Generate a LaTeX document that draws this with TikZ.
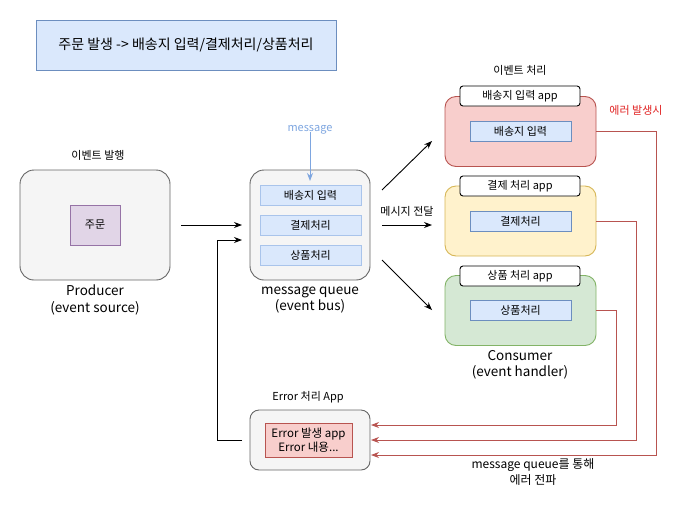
\documentclass[tikz,border=0pt]{standalone}
\usepackage{fontspec}
\setmainfont{Noto Sans CJK KR}
\usetikzlibrary{arrows.meta}
\definecolor{bfill}{HTML}{DAE8FC}
\definecolor{bline}{HTML}{6C8EBF}
\definecolor{blight}{HTML}{A9C4EB}
\definecolor{gfill}{HTML}{F5F5F5}
\definecolor{gline}{HTML}{666666}
\definecolor{pfill}{HTML}{E1D5E7}
\definecolor{pline}{HTML}{9673A6}
\definecolor{rfill}{HTML}{F8CECC}
\definecolor{rline}{HTML}{B85450}
\definecolor{yfill}{HTML}{FFF2CC}
\definecolor{yline}{HTML}{D6B656}
\definecolor{grfill}{HTML}{D5E8D4}
\definecolor{grline}{HTML}{82B366}
\definecolor{msgblue}{HTML}{7EA6E0}
\definecolor{errred}{HTML}{E02020}
\tikzset{
  base/.style={inner sep=0pt, outer sep=0pt, line width=0.9pt, font=\fontsize{11}{13}\selectfont, align=center},
  bigbox/.style={base, draw=gline, fill=gfill, rounded corners=14pt},
  item/.style={base, draw=blight, fill=bfill, minimum width=101pt, minimum height=20pt},
  appbox/.style={base, rounded corners=11pt, minimum width=151pt, minimum height=70pt},
  tagbox/.style={base, draw=black, fill=white, rounded corners=3pt, minimum width=120pt, minimum height=20pt},
  lbl/.style={base},
  biglbl/.style={base, font=\fontsize{12}{16}\selectfont},
  caplbl/.style={base, font=\fontsize{13.5}{16.5}\selectfont},
  arr/.style={line width=0.9pt, -{Stealth[length=8pt,width=6pt]}},
  rarr/.style={line width=0.9pt, draw=rline, -{Stealth[length=8pt,width=6pt]}},
}
\begin{document}
\begin{tikzpicture}[x=1pt,y=-1pt]
\useasboundingbox (0,0) rectangle (687,509);

% title
\node[base, draw=bline, fill=bfill, minimum width=300pt, minimum height=50pt, font=\fontsize{14}{16}\selectfont] (title) at (186,45) {주문 발생 -> 배송지 입력/결제처리/상품처리};

% producer
\node[lbl] (prodlbl) at (98,155) {이벤트 발행};
\node[bigbox, minimum width=150pt, minimum height=110pt] (prod) at (95,225) {};
\node[base, draw=pline, fill=pfill, minimum width=50pt, minimum height=40pt] (order) at (95,225) {주문};
\node[caplbl] (prodcap) at (95,300) {Producer\\(event source)};

% message queue
\node[bigbox, minimum width=120pt, minimum height=110pt] (mq) at (310,225) {};
\node[item] (mq1) at (310.5,195) {배송지 입력};
\node[item] (mq2) at (310.5,225) {결제처리};
\node[item] (mq3) at (310.5,255) {상품처리};
\node[caplbl] (mqcap) at (310,300) {message queue\\(event bus)};
\node[lbl, text=msgblue] (msg) at (310,130) {message};
\coordinate (msgend) at (310,181);
\draw[arr, draw=msgblue] (msg.south) ++(0,-2) -- (msgend);

% producer -> mq
\coordinate (p1s) at (181,225);
\coordinate (p1e) at (242,225);
\draw[arr] (p1s) -- (p1e);

% consumers
\node[lbl] (conlbl) at (520,70) {이벤트 처리};
\node[appbox, draw=rline, fill=rfill] (c1) at (520.5,131.5) {};
\node[appbox, draw=yline, fill=yfill] (c2) at (520.5,221) {};
\node[appbox, draw=grline, fill=grfill] (c3) at (520.5,310.5) {};
\node[tagbox] (t1) at (520,96) {배송지 입력 app};
\node[tagbox] (t2) at (520,186) {결제 처리 app};
\node[tagbox] (t3) at (520,276) {상품 처리 app};
\node[item, draw=bline] (i1) at (520.5,131) {배송지 입력};
\node[item, draw=bline] (i2) at (520.5,221) {결제처리};
\node[item, draw=bline] (i3) at (520.5,310) {상품처리};
\node[caplbl] (concap) at (520,365) {Consumer\\(event handler)};
\node[lbl, text=errred] (errlbl) at (636,110) {에러 발생시};

% mq -> consumers
\coordinate (a1s) at (382,190); \coordinate (a1e) at (432,141);
\coordinate (a2s) at (382,225); \coordinate (a2e) at (432,225);
\coordinate (a3s) at (382,260); \coordinate (a3e) at (432,310);
\draw[arr] (a1s) -- (a1e);
\draw[arr] (a2s) -- (a2e);
\draw[arr] (a3s) -- (a3e);
\node[lbl] (deliver) at (407,211) {메시지 전달};

% error app
\node[lbl] (errapplbl) at (308,397) {Error 처리 App};
\node[bigbox, rounded corners=9pt, minimum width=120pt, minimum height=60pt] (err) at (310,440) {};
\node[base, draw=rline, fill=rfill, minimum width=87pt, minimum height=34pt, font=\fontsize{11.5}{14}\selectfont] (errin) at (308.5,440) {Error 발생 app\\Error 내용...};
\node[biglbl] (errcap) at (533,472) {message queue를 통해\\에러 전파};

% error -> mq
\coordinate (b0) at (242,440);
\draw[arr] (b0) -- (217,440) -- (217,240) -- (242,240);

% consumer -> error
\draw[rarr] (c1.east) -- (656,131.5) -- (656,455) -- (371,455);
\draw[rarr] (c2.east) -- (636,221) -- (636,440) -- (371,440);
\draw[rarr] (c3.east) -- (616,310.5) -- (616,425) -- (371,425);
\end{tikzpicture}
\end{document}
